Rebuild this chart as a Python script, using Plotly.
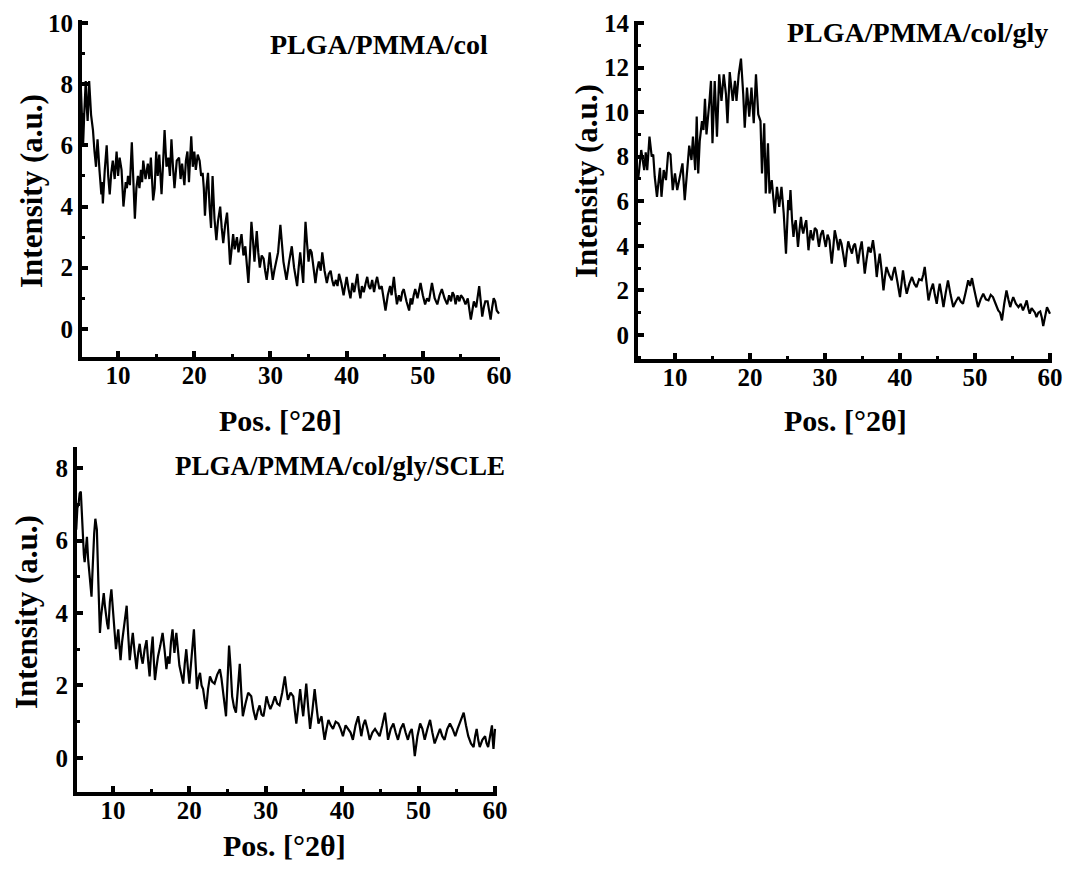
import plotly.graph_objects as go

# ---- data: (2theta, intensity) ----
pts_col = [
    (5.0, 8.6), (5.2, 7.2), (5.4, 6.0), (5.55, 7.0), (5.75, 8.1), (5.9, 7.2), (6.0, 6.8), (6.1, 7.4), (6.2, 8.1),
    (6.45, 7.0), (6.7, 6.5), (6.9, 5.8), (7.1, 5.3), (7.2, 5.8), (7.3, 6.2), (7.55, 5.2), (7.8, 4.4), (7.9, 4.8),
    (8.0, 4.1), (8.25, 5.2), (8.5, 6.0), (8.7, 5.0), (8.9, 4.4), (9.1, 5.1), (9.3, 5.5), (9.55, 4.9), (9.8, 5.8),
    (10.0, 5.0), (10.2, 5.6), (10.45, 5.2), (10.7, 4.0), (11.0, 4.8), (11.15, 4.6), (11.3, 5.0), (11.55, 4.7),
    (11.8, 6.1), (12.0, 4.9), (12.2, 3.6), (12.4, 4.6), (12.6, 5.0), (12.8, 4.6), (13.0, 5.2), (13.15, 4.8),
    (13.3, 5.5), (13.6, 4.9), (13.9, 5.4), (14.1, 4.9), (14.3, 5.6), (14.6, 4.2), (14.8, 4.6), (15.0, 5.8),
    (15.2, 5.0), (15.4, 5.7), (15.7, 4.4), (15.9, 5.4), (16.1, 6.5), (16.35, 5.3), (16.6, 5.6), (16.8, 5.0),
    (17.0, 6.2), (17.2, 5.3), (17.4, 4.6), (17.7, 5.5), (18.0, 5.6), (18.2, 4.9), (18.4, 5.4), (18.7, 4.7),
    (18.9, 5.5), (19.1, 5.8), (19.3, 4.8), (19.6, 6.3), (19.8, 5.3), (20.0, 5.8), (20.2, 5.2), (20.45, 5.7),
    (20.7, 5.5), (20.9, 5.0), (21.1, 5.1), (21.25, 4.6), (21.4, 3.7), (21.6, 4.6), (21.8, 5.1), (22.0, 4.0),
    (22.2, 3.3), (22.3, 4.2), (22.4, 5.0), (22.65, 3.6), (22.9, 2.9), (23.1, 3.5), (23.4, 4.0), (23.6, 3.3),
    (23.8, 2.8), (24.05, 3.4), (24.3, 3.8), (24.5, 3.0), (24.7, 2.1), (24.9, 2.6), (25.1, 3.1), (25.3, 2.6),
    (25.6, 3.0), (25.8, 2.5), (26.0, 2.9), (26.2, 3.1), (26.45, 2.4), (26.7, 2.7), (26.9, 2.1), (27.1, 1.5),
    (27.3, 2.4), (27.5, 3.5), (27.7, 2.9), (27.9, 2.2), (28.05, 2.7), (28.2, 3.2), (28.4, 2.5), (28.6, 2.0),
    (28.85, 2.4), (29.1, 2.3), (29.3, 1.9), (29.5, 1.6), (29.7, 2.0), (29.9, 2.5), (30.1, 2.0), (30.3, 1.6),
    (30.5, 1.9), (30.7, 2.1), (31.0, 2.5), (31.3, 3.4), (31.5, 2.7), (31.7, 2.2), (31.9, 1.9), (32.1, 1.6),
    (32.45, 2.2), (32.8, 2.7), (33.1, 2.0), (33.5, 1.4), (33.7, 2.0), (33.9, 2.5), (34.1, 2.0), (34.3, 1.5),
    (34.45, 2.6), (34.6, 3.5), (34.8, 2.8), (35.0, 2.2), (35.2, 2.6), (35.4, 2.5), (35.65, 2.0), (35.9, 1.5),
    (36.1, 1.9), (36.35, 2.2), (36.6, 1.9), (36.8, 2.5), (37.1, 1.9), (37.4, 1.5), (37.65, 1.8), (37.9, 1.9),
    (38.1, 1.6), (38.3, 1.4), (38.6, 1.6), (38.8, 1.4), (39.0, 1.8), (39.3, 1.5), (39.6, 1.1), (39.8, 1.4),
    (40.0, 1.7), (40.25, 1.3), (40.5, 1.0), (40.75, 1.5), (41.0, 1.2), (41.2, 1.5), (41.4, 1.8), (41.6, 1.3),
    (41.8, 1.0), (42.0, 1.4), (42.25, 1.2), (42.5, 1.5), (42.7, 1.7), (42.9, 1.4), (43.1, 1.3), (43.35, 1.6),
    (43.6, 1.2), (43.8, 1.5), (44.0, 1.7), (44.3, 1.3), (44.6, 1.4), (44.85, 1.0), (45.1, 0.6), (45.4, 1.1),
    (45.7, 1.4), (45.9, 1.1), (46.2, 1.7), (46.4, 1.2), (46.6, 0.8), (46.85, 1.1), (47.1, 0.9), (47.3, 1.2),
    (47.5, 1.3), (47.85, 0.9), (48.2, 0.6), (48.4, 1.0), (48.6, 0.8), (48.8, 1.1), (49.0, 1.3), (49.3, 1.0),
    (49.7, 1.5), (50.0, 1.1), (50.3, 0.8), (50.55, 1.0), (50.8, 0.9), (51.0, 1.2), (51.2, 1.5), (51.55, 1.0),
    (51.9, 0.8), (52.2, 1.1), (52.5, 1.3), (52.85, 1.0), (53.2, 0.8), (53.45, 1.1), (53.7, 0.9), (53.9, 1.2),
    (54.1, 1.1), (54.3, 0.8), (54.55, 1.1), (54.8, 0.9), (55.0, 1.1), (55.3, 1.0), (55.6, 0.8), (55.9, 1.0),
    (56.1, 0.7), (56.3, 0.3), (56.5, 0.6), (56.7, 0.9), (57.0, 0.7), (57.2, 1.1), (57.4, 1.4), (57.6, 0.9),
    (57.8, 0.4), (58.0, 0.7), (58.2, 0.9), (58.5, 0.9), (58.7, 0.6), (58.9, 0.3), (59.1, 0.7), (59.3, 1.0),
    (59.5, 0.9), (59.7, 0.6), (60.0, 0.5),
]

pts_gly = [
    (5.1, 7.0), (5.5, 8.3), (5.9, 7.4), (6.1, 8.2), (6.3, 7.4), (6.6, 8.9), (6.9, 8.0), (7.1, 8.1), (7.3, 7.1),
    (7.6, 6.2), (8.0, 7.5), (8.2, 6.2), (8.5, 7.4), (8.8, 6.95), (9.1, 8.2), (9.4, 8.1), (9.7, 6.5), (10.0, 7.25),
    (10.3, 6.5), (10.7, 7.25), (11.0, 7.7), (11.3, 6.05), (11.6, 7.4), (11.9, 8.5), (12.2, 7.85), (12.4, 8.9),
    (12.7, 7.4), (12.9, 9.8), (13.1, 7.25), (13.3, 8.7), (13.6, 9.6), (13.8, 9.2), (14.0, 10.6), (14.2, 9.0),
    (14.6, 10.5), (14.8, 11.4), (15.0, 8.6), (15.3, 11.4), (15.6, 8.9), (15.9, 11.7), (16.2, 10.5), (16.5, 11.7),
    (16.8, 10.8), (17.0, 9.5), (17.3, 11.8), (17.7, 10.5), (18.0, 11.4), (18.2, 10.5), (18.5, 11.7), (18.8, 12.4),
    (19.1, 10.8), (19.3, 9.3), (19.6, 11.1), (19.9, 9.8), (20.2, 11.1), (20.5, 9.5), (20.8, 11.7), (21.1, 9.9),
    (21.4, 9.6), (21.6, 7.25), (21.9, 9.5), (22.1, 6.35), (22.4, 8.6), (22.6, 6.35), (22.9, 6.95), (23.3, 5.45),
    (23.6, 6.65), (23.9, 5.75), (24.2, 6.65), (24.5, 5.45), (24.8, 3.65), (25.1, 6.05), (25.25, 5.6), (25.4, 6.5),
    (25.6, 5.2), (25.8, 4.4), (25.95, 4.9), (26.1, 5.15), (26.25, 4.6), (26.4, 3.95), (26.6, 4.7), (26.8, 5.3),
    (26.95, 4.8), (27.1, 4.55), (27.3, 4.9), (27.5, 5.15), (27.65, 4.5), (27.8, 3.8), (27.95, 4.3), (28.1, 4.7),
    (28.25, 4.4), (28.4, 4.25), (28.65, 4.8), (28.9, 4.7), (29.05, 4.3), (29.2, 3.95), (29.45, 4.5), (29.7, 4.7),
    (29.9, 4.3), (30.1, 3.95), (30.35, 4.5), (30.6, 4.25), (30.75, 3.7), (30.9, 3.2), (31.1, 3.9), (31.3, 4.7),
    (31.55, 4.3), (31.8, 3.8), (32.0, 4.3), (32.2, 4.1), (32.45, 3.6), (32.7, 3.05), (32.9, 3.7), (33.1, 4.2),
    (33.35, 3.9), (33.6, 3.65), (33.8, 4.0), (34.0, 4.1), (34.2, 3.7), (34.4, 3.2), (34.65, 3.8), (34.9, 4.2),
    (35.1, 3.5), (35.3, 2.75), (35.55, 3.4), (35.8, 3.95), (36.1, 3.7), (36.4, 4.25), (36.65, 3.6), (36.9, 2.6),
    (37.1, 3.2), (37.3, 3.65), (37.55, 2.9), (37.8, 2.0), (38.0, 2.6), (38.2, 3.05), (38.55, 2.7), (38.9, 2.45),
    (39.1, 2.8), (39.3, 3.05), (39.65, 2.4), (40.0, 1.7), (40.2, 2.3), (40.4, 2.9), (40.65, 2.3), (40.9, 1.85),
    (41.25, 2.3), (41.6, 2.6), (41.9, 2.3), (42.2, 2.15), (42.55, 2.5), (42.9, 2.45), (43.1, 2.7), (43.3, 3.05),
    (43.55, 2.3), (43.8, 1.55), (44.1, 2.0), (44.4, 2.3), (44.65, 1.8), (44.9, 1.4), (45.1, 1.9), (45.3, 2.3),
    (45.55, 1.8), (45.8, 1.25), (46.1, 1.9), (46.4, 2.45), (46.75, 1.8), (47.1, 1.25), (47.45, 1.5), (47.8, 1.7),
    (48.1, 1.5), (48.4, 1.4), (48.75, 1.9), (49.1, 2.45), (49.35, 2.2), (49.6, 2.55), (49.8, 2.2), (50.0, 1.85),
    (50.2, 1.5), (50.4, 1.25), (50.75, 1.6), (51.1, 1.85), (51.45, 1.6), (51.8, 1.55), (52.1, 1.8), (52.4, 1.7),
    (52.75, 1.4), (53.1, 1.1), (53.35, 1.0), (53.6, 0.65), (53.9, 1.4), (54.2, 2.0), (54.45, 1.6), (54.7, 1.25),
    (54.9, 1.5), (55.1, 1.7), (55.45, 1.4), (55.8, 1.25), (56.1, 1.4), (56.4, 1.1), (56.65, 1.3), (56.9, 1.55),
    (57.1, 1.2), (57.3, 0.95), (57.55, 1.2), (57.8, 1.1), (58.0, 1.0), (58.2, 0.8), (58.45, 1.0), (58.7, 1.05),
    (58.9, 0.8), (59.1, 0.4), (59.35, 0.9), (59.6, 1.25), (59.8, 1.1), (60.0, 0.95),
]

pts_scle = [
    (5.2, 6.3), (5.35, 6.9), (5.5, 7.0), (5.65, 7.3), (5.8, 7.35), (5.95, 6.6), (6.1, 6.0), (6.2, 5.6), (6.3, 5.4),
    (6.45, 5.9), (6.6, 6.1), (6.75, 5.5), (6.9, 5.2), (7.05, 4.8), (7.2, 4.45), (7.3, 5.0), (7.4, 5.55), (7.55, 6.2),
    (7.7, 6.6), (7.8, 6.5), (7.9, 6.3), (8.1, 4.8), (8.3, 3.45), (8.45, 3.9), (8.6, 4.2), (8.7, 4.4), (8.8, 4.55),
    (8.95, 4.2), (9.1, 3.9), (9.25, 3.7), (9.4, 3.55), (9.6, 4.3), (9.8, 4.65), (9.95, 4.3), (10.1, 3.9),
    (10.25, 3.4), (10.4, 3.0), (10.55, 3.3), (10.7, 3.55), (10.85, 3.1), (11.0, 2.7), (11.2, 3.2), (11.4, 3.55),
    (11.6, 3.8), (11.8, 4.2), (12.0, 3.4), (12.2, 2.7), (12.4, 3.1), (12.6, 3.45), (12.85, 2.9), (13.1, 2.45),
    (13.3, 2.9), (13.5, 3.15), (13.7, 2.8), (13.9, 2.6), (14.15, 3.0), (14.4, 3.25), (14.6, 2.7), (14.8, 2.25),
    (15.0, 2.9), (15.2, 3.35), (15.35, 2.7), (15.5, 2.15), (15.7, 2.5), (15.9, 2.8), (16.2, 3.1), (16.5, 3.45),
    (16.75, 3.0), (17.0, 2.45), (17.2, 2.8), (17.4, 2.6), (17.6, 3.2), (17.8, 3.55), (18.05, 2.9), (18.3, 3.45),
    (18.5, 3.0), (18.7, 2.55), (18.95, 2.3), (19.2, 2.05), (19.4, 2.6), (19.6, 3.0), (19.8, 2.5), (20.0, 2.05),
    (20.3, 2.8), (20.6, 3.55), (20.8, 2.7), (21.0, 1.9), (21.2, 2.2), (21.4, 2.35), (21.6, 2.0), (21.8, 1.9),
    (22.0, 1.6), (22.2, 1.35), (22.45, 1.9), (22.7, 2.25), (23.0, 2.1), (23.3, 2.05), (23.65, 2.3), (24.0, 2.45),
    (24.2, 2.2), (24.4, 1.9), (24.6, 1.5), (24.8, 1.15), (25.0, 2.1), (25.2, 3.1), (25.4, 2.5), (25.6, 1.7),
    (25.85, 1.4), (26.1, 1.25), (26.35, 1.9), (26.6, 2.6), (26.8, 1.8), (27.0, 1.15), (27.35, 1.5), (27.7, 1.8),
    (27.9, 1.75), (28.1, 1.7), (28.4, 1.3), (28.7, 1.05), (28.95, 1.3), (29.2, 1.45), (29.45, 1.2), (29.7, 1.15),
    (29.9, 1.4), (30.1, 1.7), (30.35, 1.5), (30.6, 1.35), (30.9, 1.5), (31.2, 1.7), (31.5, 1.5), (31.8, 1.45),
    (32.15, 1.8), (32.5, 2.25), (32.7, 1.9), (32.9, 1.6), (33.25, 1.8), (33.6, 1.7), (33.8, 1.3), (34.0, 0.95),
    (34.25, 1.4), (34.5, 1.9), (34.7, 1.5), (34.9, 1.15), (35.1, 1.6), (35.3, 2.05), (35.55, 1.4), (35.8, 0.8),
    (36.1, 1.3), (36.4, 1.9), (36.65, 1.4), (36.9, 0.95), (37.1, 1.05), (37.3, 1.15), (37.5, 0.8), (37.7, 0.5),
    (37.95, 0.8), (38.2, 1.05), (38.5, 0.9), (38.8, 0.8), (39.15, 1.0), (39.5, 0.95), (39.8, 0.8), (40.1, 0.6),
    (40.45, 0.9), (40.8, 0.8), (41.1, 0.7), (41.4, 0.5), (41.75, 0.9), (42.1, 1.15), (42.3, 0.8), (42.5, 0.6),
    (42.75, 0.9), (43.0, 1.05), (43.3, 0.8), (43.6, 0.5), (43.95, 0.7), (44.3, 0.8), (44.6, 0.7), (44.9, 0.6),
    (45.25, 0.9), (45.6, 1.25), (45.8, 0.9), (46.0, 0.5), (46.35, 0.8), (46.7, 0.95), (47.0, 0.7), (47.3, 0.5),
    (47.65, 0.8), (48.0, 0.95), (48.3, 0.7), (48.6, 0.5), (48.85, 0.7), (49.1, 0.8), (49.3, 0.5), (49.5, 0.05),
    (49.85, 0.6), (50.2, 0.95), (50.5, 0.8), (50.8, 0.5), (51.15, 0.8), (51.5, 1.05), (51.8, 0.7), (52.1, 0.4),
    (52.45, 0.6), (52.8, 0.8), (53.1, 0.6), (53.4, 0.5), (53.75, 0.8), (54.1, 0.95), (54.45, 0.8), (54.8, 0.6),
    (55.1, 0.8), (55.4, 0.95), (55.65, 1.1), (55.9, 1.25), (56.2, 0.9), (56.5, 0.6), (56.85, 0.4), (57.2, 0.3),
    (57.4, 0.6), (57.6, 0.8), (57.8, 0.5), (58.0, 0.3), (58.35, 0.5), (58.7, 0.6), (58.9, 0.4), (59.1, 0.3),
    (59.35, 0.6), (59.6, 0.9), (59.7, 0.5), (59.8, 0.25), (60.0, 0.8),
]

labels = ["PLGA/PMMA/col", "PLGA/PMMA/col/gly", "PLGA/PMMA/col/gly/SCLE"]
x_title = "Pos. [°2θ]"
y_title = "Intensity (a.u.)"

# ---- figure ----
W, H = 1069, 872
FONT = "Liberation Serif"


def px_x(p):
    return p / W


def px_y(p):
    return 1 - p / H


fig = go.Figure()
for i, pts in enumerate([pts_col, pts_gly, pts_scle]):
    suffix = "" if i == 0 else str(i + 1)
    fig.add_trace(go.Scatter(x=[p[0] for p in pts], y=[p[1] for p in pts], mode="lines",
                             line=dict(color="black", width=2.2),
                             xaxis="x" + suffix, yaxis="y" + suffix, showlegend=False))

# panel geometry in pixels: (left, right, top, bottom), x-range, y-range
panels = [
    ((82, 500, 20, 357), [5.26, 60.13], [-0.92, 10.1]),
    ((638, 1052, 21, 359), [5.07, 60.27], [-1.08, 14.09]),
    ((77, 497, 447, 792), [5.3, 60.26], [-0.94, 8.58]),
]

tickfont = dict(family=FONT, size=25, color="black", weight="bold")
layout = dict(width=W, height=H, margin=dict(l=0, r=0, t=0, b=0, autoexpand=False),
              paper_bgcolor="white", plot_bgcolor="white", showlegend=False)

for i, ((l, r, t, b), xr, yr) in enumerate(panels):
    suffix = "" if i == 0 else str(i + 1)
    layout["xaxis" + suffix] = dict(
        domain=[px_x(l), px_x(r)], range=xr, anchor="y" + suffix,
        showline=True, linecolor="black", linewidth=4, mirror=False,
        ticks="inside", ticklen=6, tickwidth=4, tickcolor="black",
        tick0=0, dtick=10, showgrid=False, zeroline=False,
        minor=dict(ticks="inside", ticklen=3, tickwidth=3, tickcolor="black", dtick=5, showgrid=False),
        tickfont=tickfont, ticklabelstandoff=-7)
    layout["yaxis" + suffix] = dict(
        domain=[px_y(b), px_y(t)], range=yr, anchor="x" + suffix,
        showline=True, linecolor="black", linewidth=4, mirror=False,
        ticks="inside", ticklen=6, tickwidth=4, tickcolor="black",
        tick0=0, dtick=2, showgrid=False, zeroline=False,
        minor=dict(ticks="inside", ticklen=3, tickwidth=3, tickcolor="black", dtick=1, showgrid=False),
        tickfont=tickfont, ticklabelstandoff=0)

annotations = []
# sample labels (right aligned, top of each panel)
label_pos = [(490, 44, 28), (1050, 33, 28), (507, 466, 27)]
for text, (xr_, yc, fs) in zip(labels, label_pos):
    annotations.append(dict(text=text, x=px_x(xr_), y=px_y(yc), xref="paper", yref="paper",
                            xanchor="right", yanchor="middle", showarrow=False,
                            font=dict(family=FONT, size=fs, color="black", weight="bold")))
# axis titles
xt_pos = [(280, 420), (845, 420), (284, 845)]
for (xc, yc) in xt_pos:
    annotations.append(dict(text=x_title, x=px_x(xc), y=px_y(yc), xref="paper", yref="paper",
                            xanchor="center", yanchor="middle", showarrow=False,
                            font=dict(family=FONT, size=30, color="black", weight="bold")))
yt_pos = [(31, 191), (587, 181), (26, 612)]
for (xc, yc) in yt_pos:
    annotations.append(dict(text=y_title, x=px_x(xc), y=px_y(yc), xref="paper", yref="paper",
                            xanchor="center", yanchor="middle", showarrow=False, textangle=-90,
                            font=dict(family=FONT, size=31, color="black", weight="bold")))
layout["annotations"] = annotations

fig.update_layout(**layout)
fig.write_html("out.html", config={"displayModeBar": False},
               post_script="document.body.style.margin='0';document.body.style.overflow='hidden';")
